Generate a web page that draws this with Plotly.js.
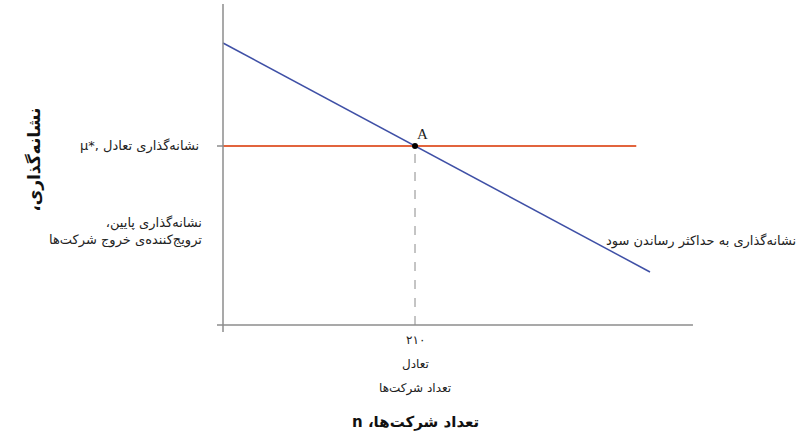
<!DOCTYPE html>
<html>
<head>
<meta charset="utf-8">
<script src="https://cdn.plot.ly/plotly-3.0.1.min.js"></script>
<style>
    html, body { margin: 0; padding: 0; background: white; }
    #chart { width: 810px; height: 444px; }
</style>
</head>
<body>
<div id="chart"></div>
<script>
// values (n = number of firms, y = markup)
const profitMaxN = [0, 467];
const profitMaxMarkup = [0.282, 0.053];
const eqLineN = [0, 452];
const eqMarkup = 0.179;
const eqN = 210;
const eqTickText = '۲۱۰';

const RLE = '\u202B';
const PDF = '\u202C';
const rtl = (s) => RLE + s + PDF;

const axisColor = '#8c8c8c';
const persianFont = 'DejaVu Sans, Noto Sans, sans-serif';

const chartElement = document.getElementById('chart');

const traces = [
    {
        x: [eqN, eqN],
        y: [0, eqMarkup],
        mode: 'lines',
        line: { color: '#8a8a8a', width: 1, dash: 'dash' },
        hoverinfo: 'skip'
    },
    {
        x: eqLineN,
        y: [eqMarkup, eqMarkup],
        mode: 'lines',
        line: { color: '#e2643d', width: 1.8 },
        hoverinfo: 'skip'
    },
    {
        x: profitMaxN,
        y: profitMaxMarkup,
        mode: 'lines',
        line: { color: '#3f50a6', width: 1.5 },
        hoverinfo: 'skip'
    },
    {
        x: [eqN],
        y: [eqMarkup],
        mode: 'markers',
        marker: { color: 'black', size: 6 },
        hoverinfo: 'skip'
    }
];

// hand drawn axes: x axis runs a bit left of the y axis, y axis pokes below
const shapes = [
    { type: 'line', xref: 'x', yref: 'y', x0: -6.6, x1: 514, y0: 0, y1: 0,
      line: { color: axisColor, width: 1.5 } },
    { type: 'line', xref: 'x', yref: 'y', x0: 0, x1: 0, y0: -0.007, y1: 0.321,
      line: { color: axisColor, width: 1.5 } },
    { type: 'line', xref: 'x', yref: 'y', x0: -6.6, x1: 0, y0: eqMarkup, y1: eqMarkup,
      line: { color: axisColor, width: 1.5 } }
];

const annotations = [
    {
        x: eqN, y: eqMarkup, xref: 'x', yref: 'y',
        text: 'A', showarrow: false,
        xshift: 7, yshift: 12,
        font: { family: 'Liberation Serif, serif', size: 15, color: '#222' }
    },
    {
        x: 0, y: eqMarkup, xref: 'x', yref: 'y',
        text: 'μ*, نشانه‌گذاری تعادل', showarrow: false,
        xanchor: 'right', xshift: -22,
        font: { family: persianFont, size: 13, color: '#222' }
    },
    {
        x: 0, y: 0.094, xref: 'x', yref: 'y',
        text: rtl('نشانه‌گذاری پایین،') + '<br>' + rtl('ترویج‌کننده‌ی خروج شرکت‌ها'),
        showarrow: false, align: 'right',
        xanchor: 'right', xshift: -19,
        font: { family: persianFont, size: 13, color: '#222' }
    },
    {
        // sits right of the plot area, so it is placed in paper units
        x: 1.2, y: 0.084, xref: 'paper', yref: 'y',
        text: rtl('نشانه‌گذاری به حداکثر رساندن سود'), showarrow: false,
        xanchor: 'right',
        font: { family: persianFont, size: 13, color: '#222' }
    },
    {
        x: eqN, y: 0, xref: 'x', yref: 'y',
        text: eqTickText, showarrow: false,
        yshift: -15,
        font: { family: persianFont, size: 12, color: '#222' }
    },
    {
        x: eqN, y: 0, xref: 'x', yref: 'y',
        text: rtl('تعادل'), showarrow: false,
        yshift: -39,
        font: { family: persianFont, size: 12, color: '#222' }
    },
    {
        x: eqN, y: 0, xref: 'x', yref: 'y',
        text: rtl('تعداد شرکت‌ها'), showarrow: false,
        yshift: -63,
        font: { family: persianFont, size: 12, color: '#222' }
    },
    {
        x: eqN, y: 0, xref: 'x', yref: 'y',
        text: '<b>' + rtl('تعداد شرکت‌ها، n') + '</b>', showarrow: false,
        yshift: -97,
        font: { family: persianFont, size: 15, color: '#111' }
    },
    {
        x: -0.3837, y: 0.53, xref: 'paper', yref: 'paper',
        text: '<b>' + rtl('نشانه‌گذاری،') + '</b>', showarrow: false,
        textangle: -90,
        font: { family: persianFont, size: 17, color: '#111' }
    }
];

const layout = {
    width: 810,
    height: 444,
    plot_bgcolor: 'white',
    paper_bgcolor: 'white',
    showlegend: false,
    margin: { l: 210, r: 110, t: 0, b: 104, pad: 0 },
    xaxis: {
        range: [-14.22, 521.7],
        visible: false,
        fixedrange: true
    },
    yaxis: {
        range: [-0.015, 0.325],
        visible: false,
        fixedrange: true
    },
    shapes: shapes,
    annotations: annotations
};

Plotly.newPlot(chartElement, traces, layout, { displayModeBar: false, staticPlot: true });
</script>
</body>
</html>
